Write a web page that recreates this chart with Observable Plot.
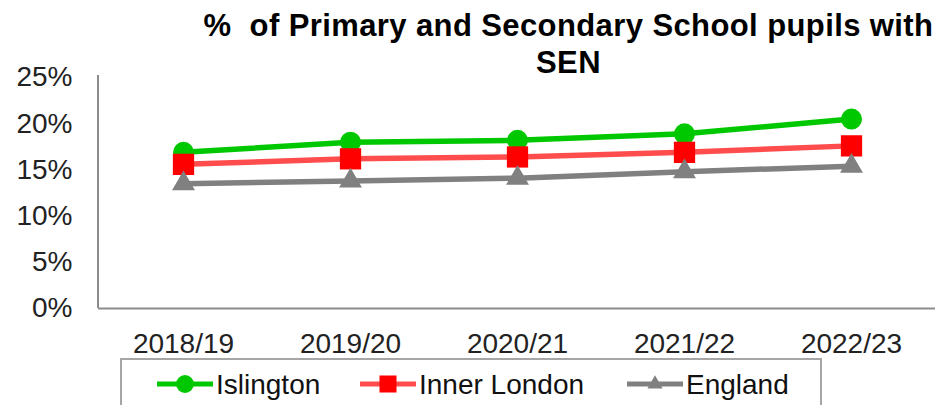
<!DOCTYPE html>
<html><head><meta charset="utf-8">
<script src="https://cdn.jsdelivr.net/npm/d3@7"></script>
<script src="https://cdn.jsdelivr.net/npm/@observablehq/plot@0.6"></script>
<style>
body{margin:0;background:#fff;font-family:"Liberation Sans",Arial,sans-serif;}
#wrap{position:relative;width:935px;height:405px;overflow:hidden;}
#title{position:absolute;left:168px;width:801px;top:7px;text-align:center;font-weight:bold;font-size:31px;letter-spacing:0.4px;line-height:37px;color:#000;}
#legend{position:absolute;left:0;top:0;}
</style></head><body>
<div id="wrap"><div id="title">%&nbsp; of Primary and Secondary School pupils with<br>SEN</div></div>
<script>
const years = ["2018/19","2019/20","2020/21","2021/22","2022/23"];
const islington = [0.169,0.180,0.182,0.189,0.205];
const innerLondon = [0.156,0.162,0.164,0.169,0.176];
const england = [0.135,0.138,0.141,0.148,0.154];
const yTicks = [0,0.05,0.10,0.15,0.20,0.25];
const seriesNames = ["Islington","Inner London","England"];
const lineColors = ["#00c800","#ff4d4d","#808080"];
const markColors = ["#00c800","#ff0000","#808080"];
const symbols = ["circle","square","triangle"];
const radii = [10.5,12,8.5];

const allSeries = [islington, innerLondon, england];
const rows = allSeries.flatMap((vals,i)=>vals.map((v,j)=>({series:seriesNames[i], year:years[j], value:v})));

const marks = [Plot.ruleY([0],{stroke:"#8c8c8c",strokeWidth:2})];
seriesNames.forEach((s,i)=>{
  const d = rows.filter(r=>r.series===s);
  marks.push(Plot.line(d,{x:"year",y:"value",stroke:lineColors[i],strokeWidth:5.5}));
  marks.push(Plot.dot(d,{x:"year",y:"value",fill:markColors[i],symbol:symbols[i],r:radii[i]}));
});

const plot = Plot.plot({
  width:935,height:405,
  marginLeft:98,marginRight:0,marginTop:77,marginBottom:97,
  style:{fontFamily:"'Liberation Sans',Arial,sans-serif",fontSize:"28px",color:"#222",background:"transparent"},
  x:{type:"point",domain:years,padding:0.5,label:null,tickSize:0,tickPadding:25},
  y:{domain:[0,0.25],ticks:yTicks,tickFormat:d3.format(".0%"),label:null,tickSize:0,tickPadding:26},
  marks
});
const wrap = document.getElementById("wrap");
wrap.insertBefore(plot, wrap.firstChild);

// left axis line using scales
const svg = d3.select(plot);
const xr = plot.scale("x").range, yr = plot.scale("y").range;
svg.append("line").attr("x1",xr[0]).attr("x2",xr[0]).attr("y1",yr[0]).attr("y2",yr[1]-2).attr("stroke","#8c8c8c").attr("stroke-width",2);

// legend
const lg = d3.select(wrap).append("svg").attr("id","legend").attr("width",935).attr("height",405);
lg.append("rect").attr("x",121).attr("y",359).attr("width",700).attr("height",60).attr("fill","none").attr("stroke","#a6a6a6").attr("stroke-width",2);
const lx = [157,360,627];
const lsym = [d3.symbolCircle,d3.symbolSquare,d3.symbolTriangle];
const lsize = [250,290,100];
seriesNames.forEach((s,i)=>{
  const g = lg.append("g").attr("transform",`translate(${lx[i]},384)`);
  g.append("line").attr("x1",0).attr("x2",56).attr("stroke",lineColors[i]).attr("stroke-width",5);
  g.append("path").attr("transform","translate(28,0)").attr("d",d3.symbol(lsym[i], lsize[i])()).attr("fill",markColors[i]);
  g.append("text").attr("x",59).attr("y",0).attr("dy","0.35em").attr("font-size","28px").attr("fill","#111").attr("font-family","'Liberation Sans',Arial,sans-serif").text(s);
});
</script>
</body></html>
